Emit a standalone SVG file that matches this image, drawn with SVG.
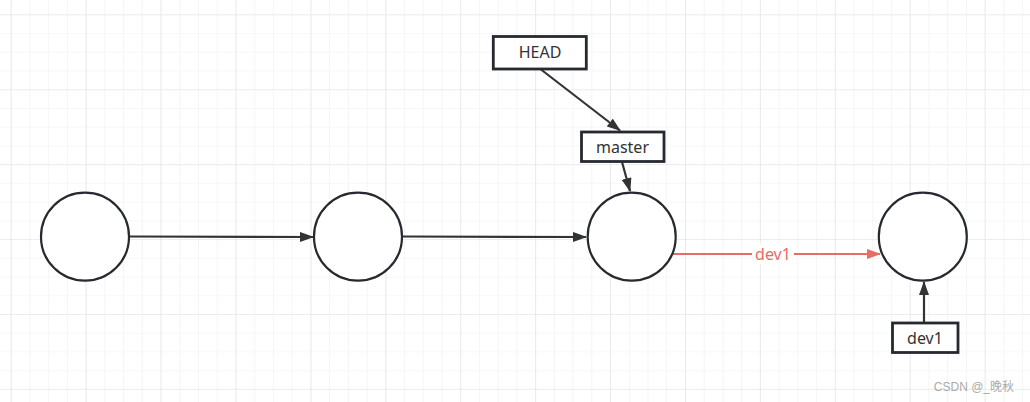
<svg xmlns="http://www.w3.org/2000/svg" width="1030" height="402" viewBox="0 0 1030 402">
<style>
.node{fill:#fff;stroke:#262a30;stroke-width:2.2}
.box{fill:#fff;stroke:#262a30;stroke-width:2.8}
.lbl{font-family:"Noto Sans","Liberation Sans",sans-serif;font-size:16px;fill:#333;text-anchor:middle}
.edge{stroke:#333;stroke-width:2.2;fill:none}
.red{stroke:#EA6B66;stroke-width:2.2;fill:none}
</style>
<defs>
<pattern id="minor" patternUnits="userSpaceOnUse" x="10.7" y="14.3" width="18.73" height="18.73">
<path d="M0 0H18.73M0 0V18.73" stroke="#efefef" stroke-width="1.2" fill="none"/>
</pattern>
<pattern id="major" patternUnits="userSpaceOnUse" x="10.7" y="14.3" width="74.92" height="74.92">
<path d="M0 0H74.92M0 0V74.92" stroke="#e2e2e2" stroke-width="1.2" fill="none"/>
</pattern>
<marker id="arr" viewBox="0 0 14 10" refX="13" refY="5" markerWidth="14" markerHeight="10" markerUnits="userSpaceOnUse" orient="auto">
<path d="M0 0L14 5L0 10Z" fill="#333"/>
</marker>
<marker id="arrR" viewBox="0 0 14 10" refX="13" refY="5" markerWidth="14" markerHeight="10" markerUnits="userSpaceOnUse" orient="auto">
<path d="M0 0L14 5L0 10Z" fill="#EA6B66"/>
</marker>
</defs>
<rect width="1030" height="402" fill="#fff"/>
<rect width="1030" height="402" fill="url(#minor)"/>
<rect width="1030" height="402" fill="url(#major)"/>
<g id="connectors">
<path class="edge" d="M129 236.5L313 237" marker-end="url(#arr)"/>
<path class="edge" d="M402 236.5L586 237" marker-end="url(#arr)"/>
<path class="edge" d="M541 69.5L620 130.5" marker-end="url(#arr)"/>
<path class="edge" d="M622 162L630 191" marker-end="url(#arr)"/>
<path class="edge" d="M924 322L924 282" marker-end="url(#arr)"/>
<path class="red" d="M672 254L880 254" marker-end="url(#arrR)"/>
<rect x="752" y="244" width="42" height="20" fill="#fff"/>
<text x="773" y="260" class="lbl" style="fill:#EA6B66">dev1</text>
</g>
<g id="c1"><circle class="node" cx="85" cy="236.7" r="44"/></g>
<g id="c2"><circle class="node" cx="358" cy="236.7" r="44"/></g>
<g id="c3"><circle class="node" cx="631.7" cy="236.7" r="44"/></g>
<g id="c4"><circle class="node" cx="922.8" cy="236.7" r="44"/></g>
<g id="head"><rect class="box" x="493.3" y="36.5" width="93" height="32.5"/><text x="540" y="58" class="lbl">HEAD</text></g>
<g id="master"><rect class="box" x="581.5" y="132" width="82.5" height="29.5"/><text x="622.5" y="152.5" class="lbl">master</text></g>
<g id="dev1"><rect class="box" x="892.5" y="323" width="65.5" height="29.5"/><text x="925" y="343.5" class="lbl">dev1</text></g>
<text x="1014" y="391" style="font-family:'Liberation Sans','Noto Sans CJK SC',sans-serif;font-size:12px;fill:#aaa;text-anchor:end">CSDN @_晚秋</text>
</svg>
